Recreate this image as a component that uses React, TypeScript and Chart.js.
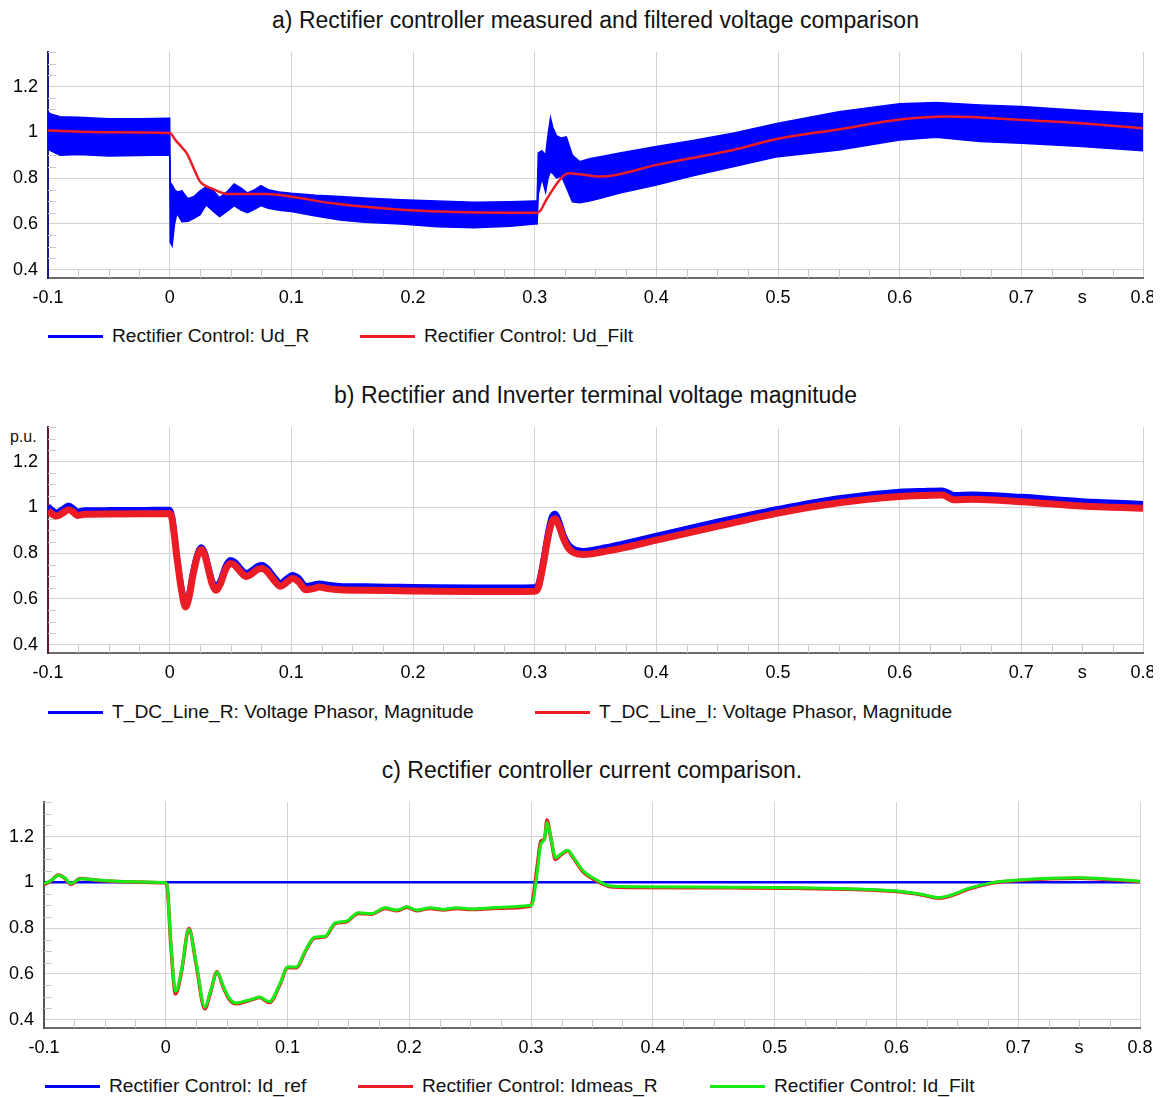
import React, { useEffect, useRef } from 'react';
import { Chart, registerables } from 'chart.js';
Chart.register(...registerables);

const FONT = '"Liberation Sans", Arial, Helvetica, sans-serif';
Chart.defaults.font.family = FONT;

const BLUE = '#0000ff';
const RED = '#ec1c24';
const GREEN = '#14ee14';

// ---- axes ----
const X_TICKS = [-0.1, 0, 0.1, 0.2, 0.3, 0.4, 0.5, 0.6, 0.7, 0.75, 0.8];
const X_TICK_LABELS = ['-0.1', '0', '0.1', '0.2', '0.3', '0.4', '0.5', '0.6', '0.7', 's', '0.8'];
const Y_TICKS = [0.4, 0.6, 0.8, 1, 1.2];
const Y_TICK_LABELS = ['0.4', '0.6', '0.8', '1', '1.2'];
const X_MIN = -0.1;
const X_MAX = 0.8;
const Y_MIN = 0.364;
const Y_MAX = 1.351;

// ---- a) Ud_R envelope (ripple band) and Ud_Filt ----
const tA = [-0.1, -0.098, -0.09, -0.075, -0.05, -0.025, 0, 0.0005, 0.002, 0.004, 0.006, 0.01, 0.015, 0.02, 0.025, 0.03, 0.036, 0.041, 0.047, 0.053, 0.059, 0.064, 0.07, 0.075, 0.081, 0.09, 0.1, 0.12, 0.14, 0.16, 0.19, 0.22, 0.25, 0.28, 0.3, 0.302, 0.303, 0.306, 0.309, 0.311, 0.313, 0.315, 0.318, 0.322, 0.326, 0.331, 0.337, 0.345, 0.354, 0.37, 0.4, 0.43, 0.463, 0.5, 0.55, 0.6, 0.63, 0.666, 0.7, 0.75, 0.8];
const udRUpper = [1.09, 1.08, 1.068, 1.066, 1.059, 1.06, 1.062, 0.78, 0.77, 0.75, 0.74, 0.745, 0.71, 0.72, 0.745, 0.762, 0.745, 0.715, 0.74, 0.775, 0.755, 0.735, 0.75, 0.767, 0.75, 0.74, 0.734, 0.725, 0.72, 0.713, 0.706, 0.7, 0.695, 0.697, 0.7, 0.7, 0.91, 0.92, 0.9, 0.99, 1.062, 1.02, 0.985, 0.975, 0.98, 0.9, 0.872, 0.885, 0.894, 0.91, 0.938, 0.965, 0.996, 1.04, 1.09, 1.125, 1.13, 1.12, 1.113, 1.095, 1.081];
const udRLower = [0.93, 0.92, 0.9, 0.903, 0.897, 0.899, 0.901, 0.52, 0.505, 0.6, 0.647, 0.61, 0.612, 0.625, 0.64, 0.683, 0.655, 0.632, 0.655, 0.68, 0.66, 0.649, 0.665, 0.68, 0.668, 0.66, 0.654, 0.635, 0.617, 0.608, 0.6, 0.588, 0.584, 0.59, 0.6, 0.6, 0.73, 0.8, 0.74, 0.8, 0.83, 0.82, 0.8, 0.81, 0.76, 0.697, 0.693, 0.7, 0.712, 0.735, 0.77, 0.81, 0.85, 0.894, 0.923, 0.967, 0.979, 0.96, 0.952, 0.938, 0.92];

const tAF = [-0.1, -0.05, 0, 0.005, 0.01, 0.014, 0.02, 0.025, 0.03, 0.036, 0.041, 0.047, 0.063, 0.08, 0.1, 0.134, 0.19, 0.244, 0.302, 0.305, 0.309, 0.313, 0.318, 0.324, 0.329, 0.337, 0.354, 0.367, 0.4, 0.463, 0.5, 0.551, 0.602, 0.639, 0.702, 0.748, 0.8];
const udFilt = [1.008, 1.0, 0.997, 0.965, 0.935, 0.909, 0.84, 0.785, 0.765, 0.752, 0.74, 0.731, 0.731, 0.731, 0.719, 0.69, 0.662, 0.651, 0.649, 0.66, 0.7, 0.735, 0.775, 0.812, 0.821, 0.817, 0.807, 0.814, 0.858, 0.923, 0.972, 1.014, 1.057, 1.069, 1.054, 1.04, 1.018];

// ---- b) terminal voltage magnitudes ----
const tB = [-0.1, -0.097, -0.093, -0.088, -0.083, -0.079, -0.076, -0.07, -0.05, -0.02, 0, 0.002, 0.006, 0.01, 0.013, 0.016, 0.019, 0.023, 0.026, 0.029, 0.032, 0.035, 0.038, 0.042, 0.046, 0.05, 0.054, 0.058, 0.063, 0.068, 0.072, 0.076, 0.08, 0.086, 0.091, 0.096, 0.101, 0.106, 0.112, 0.118, 0.123, 0.13, 0.14, 0.16, 0.19, 0.22, 0.25, 0.28, 0.3, 0.303, 0.307, 0.311, 0.314, 0.317, 0.32, 0.324, 0.328, 0.333, 0.34, 0.347, 0.355, 0.37, 0.4, 0.45, 0.5, 0.55, 0.6, 0.62, 0.635, 0.645, 0.66, 0.7, 0.75, 0.8];
const vLineI = [0.985, 0.972, 0.962, 0.975, 0.99, 0.978, 0.965, 0.97, 0.971, 0.972, 0.973, 0.95, 0.78, 0.63, 0.565, 0.61, 0.7, 0.79, 0.816, 0.79, 0.726, 0.665, 0.638, 0.67, 0.73, 0.755, 0.745, 0.72, 0.698, 0.712, 0.728, 0.733, 0.72, 0.68, 0.655, 0.672, 0.689, 0.675, 0.64, 0.645, 0.652, 0.645, 0.64, 0.638, 0.636, 0.634, 0.633, 0.633, 0.634, 0.65, 0.75, 0.87, 0.935, 0.95, 0.92, 0.86, 0.82, 0.8, 0.794, 0.797, 0.805, 0.82, 0.857, 0.917, 0.975, 1.02, 1.047, 1.052, 1.054, 1.033, 1.035, 1.025, 1.006, 0.996];
const vLineR = [1.005, 0.99, 0.978, 0.992, 1.008, 0.995, 0.982, 0.987, 0.988, 0.989, 0.99, 0.96, 0.785, 0.64, 0.578, 0.622, 0.712, 0.8, 0.826, 0.8, 0.738, 0.678, 0.652, 0.684, 0.744, 0.77, 0.76, 0.735, 0.713, 0.727, 0.743, 0.748, 0.735, 0.695, 0.67, 0.688, 0.705, 0.692, 0.657, 0.662, 0.668, 0.662, 0.657, 0.655, 0.653, 0.651, 0.65, 0.65, 0.651, 0.665, 0.765, 0.89, 0.958, 0.972, 0.94, 0.875, 0.836, 0.816, 0.81, 0.814, 0.822, 0.838, 0.876, 0.937, 0.993, 1.04, 1.068, 1.072, 1.074, 1.054, 1.056, 1.046, 1.027, 1.015];

// ---- c) current comparison ----
const tRef = [-0.1, 0.8];
const idRef = [1, 1];
const tC = [-0.1, -0.095, -0.088, -0.083, -0.078, -0.07, -0.055, -0.027, -0.001, 0.001, 0.004, 0.008, 0.013, 0.019, 0.025, 0.032, 0.037, 0.042, 0.047, 0.052, 0.058, 0.066, 0.071, 0.077, 0.085, 0.094, 0.1, 0.107, 0.115, 0.122, 0.131, 0.139, 0.148, 0.158, 0.169, 0.18, 0.19, 0.198, 0.206, 0.217, 0.228, 0.239, 0.25, 0.272, 0.299, 0.301, 0.305, 0.308, 0.311, 0.313, 0.316, 0.32, 0.324, 0.33, 0.335, 0.343, 0.354, 0.365, 0.382, 0.464, 0.518, 0.56, 0.6, 0.62, 0.635, 0.645, 0.66, 0.68, 0.7, 0.75, 0.8];
const idFilt = [0.994, 1.006, 1.03, 1.02, 0.995, 1.016, 1.01, 1.003, 0.999, 0.99, 0.75, 0.524, 0.619, 0.794, 0.648, 0.456, 0.53, 0.607, 0.55, 0.495, 0.473, 0.483, 0.49, 0.499, 0.479, 0.561, 0.631, 0.63, 0.706, 0.76, 0.765, 0.823, 0.83, 0.867, 0.864, 0.889, 0.879, 0.893, 0.879, 0.889, 0.882, 0.889, 0.884, 0.89, 0.899, 0.905, 1.042, 1.166, 1.188, 1.261, 1.203, 1.108, 1.122, 1.14, 1.108, 1.049, 1.01, 0.984, 0.981, 0.979, 0.977, 0.972, 0.962, 0.948, 0.934, 0.945, 0.975, 1.0, 1.01, 1.02, 1.005];
const idMeas = [0.99, 1.004, 1.032, 1.018, 0.992, 1.017, 1.008, 1.002, 0.998, 0.985, 0.74, 0.512, 0.612, 0.798, 0.64, 0.448, 0.525, 0.61, 0.545, 0.49, 0.47, 0.48, 0.488, 0.497, 0.475, 0.556, 0.628, 0.627, 0.702, 0.757, 0.762, 0.82, 0.827, 0.864, 0.861, 0.886, 0.876, 0.891, 0.876, 0.886, 0.879, 0.886, 0.881, 0.887, 0.896, 0.915, 1.07, 1.18, 1.19, 1.272, 1.2, 1.1, 1.118, 1.138, 1.104, 1.044, 1.006, 0.981, 0.978, 0.976, 0.974, 0.97, 0.96, 0.946, 0.931, 0.942, 0.972, 0.998, 1.008, 1.018, 1.003];

const TITLE_A = 'a) Rectifier controller measured and filtered voltage comparison';
const TITLE_B = 'b) Rectifier and Inverter terminal voltage magnitude';
const TITLE_C = 'c) Rectifier controller current comparison.';

const pts = (xs: number[], ys: number[]) => xs.map((x, i) => ({ x, y: ys[i] }));

const minorTicks = {
  id: 'minorTicks',
  beforeDatasetsDraw(chart: any) {
    const { ctx, chartArea: a, scales } = chart;
    const x = scales.x;
    const y = scales.y;
    ctx.save();
    ctx.strokeStyle = '#c8c8c8';
    ctx.lineWidth = 1;
    ctx.beginPath();
    for (let i = 0; i <= 36; i++) {
      if (i % 4 === 0) continue;
      const px = Math.round(x.getPixelForValue(X_MIN + i * 0.025)) + 0.5;
      ctx.moveTo(px, a.bottom);
      ctx.lineTo(px, a.bottom - 8);
    }
    for (let i = 0; i <= 19; i++) {
      if (i % 4 === 0) continue;
      const v = 0.4 + i * 0.05;
      if (v > Y_MAX) continue;
      const py = Math.round(y.getPixelForValue(v)) + 0.5;
      ctx.moveTo(a.left, py);
      ctx.lineTo(a.left + 8, py);
    }
    ctx.stroke();
    ctx.restore();
  },
};

const CANVAS_W = 1162;
const PAD_TOP = 28;

type PlotProps = {
  plotTop: number;
  plotBottom: number;
  left: number;
  right: number;
  yBorder: string;
  makeDatasets: () => any[];
};

function Plot({ plotTop, plotBottom, left, right, yBorder, makeDatasets }: PlotProps) {
  const ref = useRef<HTMLCanvasElement>(null);
  const top = plotTop - PAD_TOP;
  const xH = 34;
  const height = PAD_TOP + (plotBottom - plotTop) + xH;
  useEffect(() => {
    const tickFont = { size: 18, family: FONT };
    const chart = new Chart(ref.current as HTMLCanvasElement, {
      type: 'line',
      data: { datasets: makeDatasets() },
      options: {
        responsive: false,
        animation: false,
        devicePixelRatio: 1,
        parsing: false as any,
        normalized: true,
        layout: { padding: { top: PAD_TOP, right: CANVAS_W - right, left: 0, bottom: 0 } },
        plugins: { legend: { display: false }, tooltip: { enabled: false }, title: { display: false } },
        elements: { point: { radius: 0 } },
        scales: {
          x: {
            type: 'linear',
            min: X_MIN,
            max: X_MAX,
            afterBuildTicks: (s: any) => {
              s.ticks = X_TICKS.map((v) => ({ value: v }));
            },
            afterFit: (s: any) => {
              s.height = xH;
              s.paddingLeft = 0;
              s.paddingRight = 0;
            },
            ticks: {
              autoSkip: false,
              maxRotation: 0,
              minRotation: 0,
              padding: 9,
              color: '#000',
              font: tickFont,
              callback: (_v: any, i: number) => X_TICK_LABELS[i],
            },
            grid: {
              drawTicks: false,
              lineWidth: 1,
              color: (c: any) => (c.tick && Math.abs(c.tick.value - 0.75) < 1e-9 ? 'rgba(0,0,0,0)' : '#d2d2d2'),
            },
            border: { color: '#6b6b6b', width: 2 },
          },
          y: {
            type: 'linear',
            min: Y_MIN,
            max: Y_MAX,
            afterBuildTicks: (s: any) => {
              s.ticks = Y_TICKS.map((v) => ({ value: v }));
            },
            afterFit: (s: any) => {
              s.width = left;
              s.paddingTop = 0;
              s.paddingBottom = 0;
            },
            ticks: {
              padding: 10,
              color: '#000',
              font: tickFont,
              callback: (_v: any, i: number) => Y_TICK_LABELS[i],
            },
            grid: { drawTicks: false, lineWidth: 1, color: '#d2d2d2' },
            border: { color: yBorder, width: 2 },
          },
        },
      } as any,
      plugins: [minorTicks],
    });
    return () => chart.destroy();
  }, []);
  return (
    <canvas
      ref={ref}
      width={CANVAS_W}
      height={height}
      style={{ position: 'absolute', left: 0, top, width: CANVAS_W, height, display: 'block' }}
    />
  );
}

type LegendItem = { label: string; color: string; x: number };

function Legend({ y, items }: { y: number; items: LegendItem[] }) {
  return (
    <>
      {items.map((it) => (
        <div
          key={it.label}
          style={{
            position: 'absolute',
            left: it.x,
            top: y - 13,
            height: 26,
            display: 'flex',
            alignItems: 'center',
            whiteSpace: 'nowrap',
            fontFamily: FONT,
            fontSize: 19.2,
            color: '#111',
          }}
        >
          <span style={{ display: 'inline-block', width: 55, height: 3, background: it.color, marginRight: 9 }} />
          <span>{it.label}</span>
        </div>
      ))}
    </>
  );
}

function Title({ y, text, left, right }: { y: number; text: string; left: number; right: number }) {
  return (
    <div
      style={{
        position: 'absolute',
        left,
        width: right - left,
        top: y - 14,
        height: 28,
        lineHeight: '28px',
        textAlign: 'center',
        fontFamily: FONT,
        fontSize: 23,
        color: '#111',
        whiteSpace: 'nowrap',
      }}
    >
      {text}
    </div>
  );
}

export default function App() {
  return (
    <div
      style={{
        position: 'absolute',
        left: 0,
        top: 0,
        width: 1153,
        height: 1097,
        overflow: 'hidden',
        background: '#fff',
      }}
    >
      <Title y={20} text={TITLE_A} left={48} right={1143} />
      <Plot
        plotTop={52}
        plotBottom={278}
        left={48}
        right={1143}
        yBorder="#1c1c90"
        makeDatasets={() => [
          {
            label: 'Rectifier Control: Ud_R',
            data: pts(tA, udRUpper),
            borderColor: BLUE,
            backgroundColor: BLUE,
            borderWidth: 1.5,
            fill: '+1',
            order: 1,
          },
          {
            label: 'Rectifier Control: Ud_R (lower envelope)',
            data: pts(tA, udRLower),
            borderColor: BLUE,
            backgroundColor: BLUE,
            borderWidth: 1.5,
            fill: false,
            order: 2,
          },
          {
            label: 'Rectifier Control: Ud_Filt',
            data: pts(tAF, udFilt),
            borderColor: RED,
            borderWidth: 2.5,
            fill: false,
            cubicInterpolationMode: 'monotone',
            order: 0,
          },
        ]}
      />
      <Legend
        y={336}
        items={[
          { label: 'Rectifier Control: Ud_R', color: BLUE, x: 48 },
          { label: 'Rectifier Control: Ud_Filt', color: RED, x: 360 },
        ]}
      />

      <Title y={395} text={TITLE_B} left={48} right={1143} />
      <div style={{ position: 'absolute', left: 10, top: 428, fontFamily: FONT, fontSize: 16, color: '#111' }}>p.u.</div>
      <Plot
        plotTop={427}
        plotBottom={653}
        left={48}
        right={1143}
        yBorder="#6a1a30"
        makeDatasets={() => [
          {
            label: 'T_DC_Line_R: Voltage Phasor, Magnitude',
            data: pts(tB, vLineR),
            borderColor: BLUE,
            borderWidth: 6,
            fill: false,
            cubicInterpolationMode: 'monotone',
            order: 1,
          },
          {
            label: 'T_DC_Line_I: Voltage Phasor, Magnitude',
            data: pts(tB, vLineI),
            borderColor: RED,
            borderWidth: 7,
            fill: false,
            cubicInterpolationMode: 'monotone',
            order: 0,
          },
        ]}
      />
      <Legend
        y={712}
        items={[
          { label: 'T_DC_Line_R: Voltage Phasor, Magnitude', color: BLUE, x: 48 },
          { label: 'T_DC_Line_I: Voltage Phasor, Magnitude', color: RED, x: 535 },
        ]}
      />

      <Title y={770} text={TITLE_C} left={44} right={1140} />
      <Plot
        plotTop={802}
        plotBottom={1028}
        left={44}
        right={1140}
        yBorder="#555555"
        makeDatasets={() => [
          {
            label: 'Rectifier Control: Id_ref',
            data: pts(tRef, idRef),
            borderColor: BLUE,
            borderWidth: 2.5,
            fill: false,
            order: 2,
          },
          {
            label: 'Rectifier Control: Idmeas_R',
            data: pts(tC, idMeas),
            borderColor: RED,
            borderWidth: 3.5,
            fill: false,
            cubicInterpolationMode: 'monotone',
            order: 1,
          },
          {
            label: 'Rectifier Control: Id_Filt',
            data: pts(tC, idFilt),
            borderColor: GREEN,
            borderWidth: 3,
            fill: false,
            cubicInterpolationMode: 'monotone',
            order: 0,
          },
        ]}
      />
      <Legend
        y={1086}
        items={[
          { label: 'Rectifier Control: Id_ref', color: BLUE, x: 45 },
          { label: 'Rectifier Control: Idmeas_R', color: RED, x: 358 },
          { label: 'Rectifier Control: Id_Filt', color: GREEN, x: 710 },
        ]}
      />
    </div>
  );
}
